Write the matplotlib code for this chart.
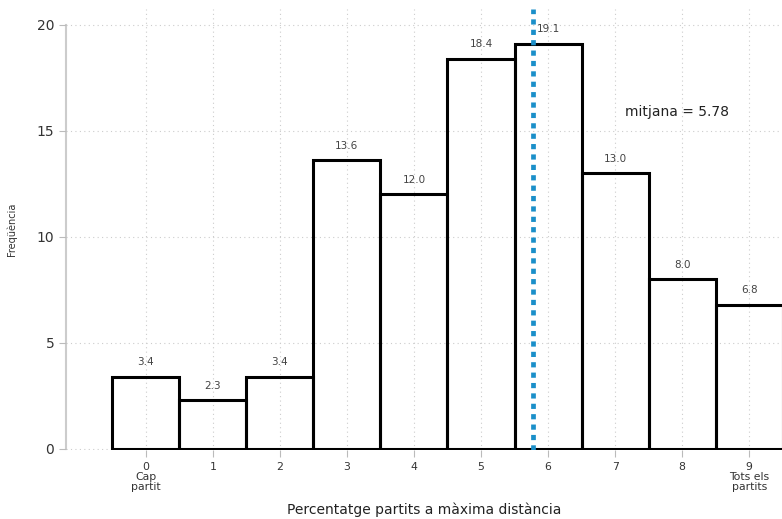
import matplotlib.pyplot as plt
import numpy as np

# data
categories = [0, 1, 2, 3, 4, 5, 6, 7, 8, 9]
freq = [3.4, 2.3, 3.4, 13.6, 12.0, 18.4, 19.1, 13.0, 8.0, 6.8]
tick_labels = ['0\nCap\npartit', '1', '2', '3', '4', '5', '6', '7', '8', '9\nTots els\npartits']
mean_val = 5.78

fig = plt.figure(figsize=(7.82, 5.19), dpi=100)
ax = fig.add_axes([0.0844, 0.133, 0.9156, 0.85])

# white faces under the grid, black outlines above it
ax.bar(categories, freq, width=1.0, facecolor='white', edgecolor='none', zorder=1)
ax.bar(categories, freq, width=1.0, facecolor='none', edgecolor='black', linewidth=2.2, zorder=3)
for xi, yi in zip(categories, freq):
    ax.text(xi, yi + 0.45, "%.1f" % yi, ha='center', va='bottom', fontsize=7.5, color='#444444', zorder=4)

ax.axvline(mean_val, color='#1a8fc9', linestyle=(0, (1.1, 1.1)), linewidth=3.4, zorder=5)
ax.text(7.15, 15.9, "mitjana = %.2f" % mean_val, fontsize=10, color='#222222', va='center')

ax.set_xlim(-1.19, 9.49)
ax.set_ylim(-0.05, 20.75)
ax.set_xticks(categories)
ax.set_xticklabels(tick_labels, fontsize=7.8, linespacing=0.95, color='#333333')
ax.set_yticks([0, 5, 10, 15, 20])
ax.tick_params(axis='y', labelsize=10, color='#bbbbbb', length=5, labelcolor='#333333')
ax.tick_params(axis='x', color='#bbbbbb', length=5, pad=4)

ax.set_axisbelow(False)
ax.grid(True, linestyle=(0, (1, 3)), color='#cccccc', linewidth=0.8)
for s in ['top', 'right', 'bottom']:
    ax.spines[s].set_visible(False)
ax.spines['left'].set_color('#cccccc')
ax.spines['left'].set_linewidth(1.5)
ax.spines['left'].set_bounds(0, 20)

ax.set_xlabel('Percentatge partits a màxima distància', fontsize=10, labelpad=8, color='#222222')
ax.set_ylabel('Freqüència', fontsize=7, labelpad=14, color='#333333')

plt.savefig('out.png', dpi=100)
